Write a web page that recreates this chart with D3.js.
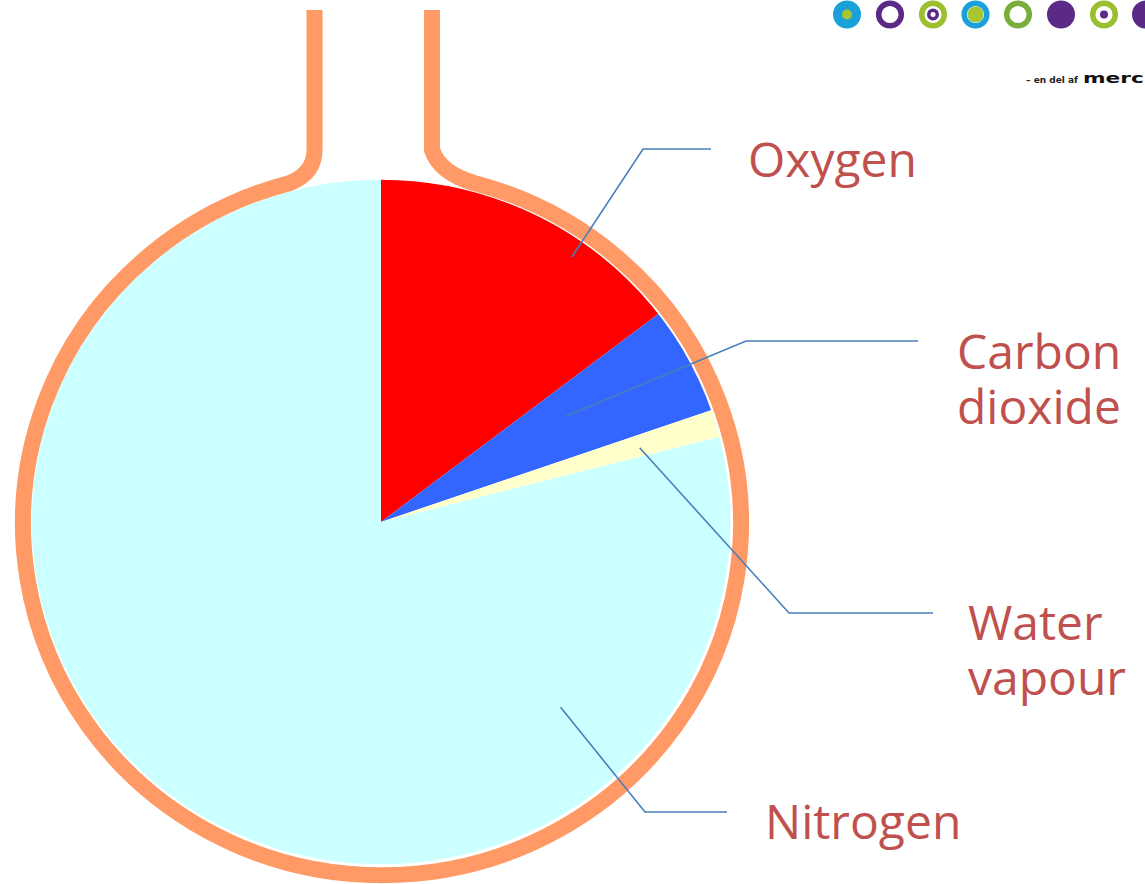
<!DOCTYPE html>
<html>
<head>
<meta charset="utf-8">
<script src="https://cdn.jsdelivr.net/npm/d3@7"></script>
<style>
  html, body { margin: 0; padding: 0; background: #fff; }
  svg { display: block; }
</style>
</head>
<body>
<div id="chart"></div>
<script>
// Data
const gases = ["Oxygen", "Carbon dioxide", "Water vapour", "Nitrogen"];
const shares = [14.6, 5.1, 1.3, 79.0];
const sliceColors = ["#ff0000", "#3366ff", "#ffffcc", "#ccffff"];

// Label layout (leader start is a fraction within the slice + radius fraction)
const labelLines = [["Oxygen"], ["Carbon", "dioxide"], ["Water", "vapour"], ["Nitrogen"]];
const leaderAt = [0.67, 0.39, 0.59, 0.214];
const leaderRadius = [0.945, 0.61, 0.77, 0.745];
const elbows = [[643, 149], [746, 341], [789, 613], [645, 812]];
const leaderEnds = [711, 918, 933, 727];
const textPos = [[748, 177], [957, 369], [968, 640], [765, 839]];

const WIDTH = 1145;
const HEIGHT = 884;
const CX = 381, CY = 522, RX = 350, RY = 343;
const LINE_GAP = 55;

const svg = d3.select("#chart")
  .append("svg")
  .attr("width", WIDTH)
  .attr("height", HEIGHT);

// Pie (slightly squashed circle)
const pie = d3.pie().value(d => d.value).sort(null);
const arcs = pie(gases.map((g, i) => ({ name: g, value: shares[i] })));

const arc = d3.arc().innerRadius(0).outerRadius(RX);

const pieG = svg.append("g")
  .attr("transform", "translate(" + CX + "," + CY + ") scale(1," + RY / RX + ")");

pieG.selectAll("path")
  .data(arcs)
  .enter()
  .append("path")
  .attr("d", arc)
  .attr("fill", (d, i) => sliceColors[i]);

// white rim along the pie edge
pieG.append("circle")
  .attr("r", RX)
  .attr("fill", "none")
  .attr("stroke", "#fff")
  .attr("stroke-width", 1.5);

// Flask outline round the pie
const flask = d3.path();
flask.moveTo(314.5, 10);
flask.lineTo(314.5, 150);
flask.quadraticCurveTo(314.5, 173, 290, 183);
svg.append("path")
  .attr("d", flask.toString() +
    " A 359 352 0 1 0 474 183" +
    " Q 440 173 432 150 L 432 10")
  .attr("fill", "none")
  .attr("stroke", "#ff9966")
  .attr("stroke-width", 16);

// Leader lines
const leaderStart = (d, i) => {
  const a = d.startAngle + leaderAt[i] * (d.endAngle - d.startAngle);
  const r = leaderRadius[i] * RX;
  return [CX + r * Math.sin(a), CY - r * Math.cos(a) * RY / RX];
};

svg.append("g")
  .selectAll("polyline")
  .data(arcs)
  .enter()
  .append("polyline")
  .attr("points", (d, i) => {
    const s = leaderStart(d, i);
    return [s, elbows[i], [leaderEnds[i], elbows[i][1]]].map(p => p.join(",")).join(" ");
  })
  .attr("fill", "none")
  .attr("stroke", "#4a7ebb")
  .attr("stroke-width", 1.6);

// Labels, one text per line
const labels = svg.append("g")
  .attr("font-family", "'Open Sans', 'Noto Sans', sans-serif")
  .attr("font-size", "48px")
  .attr("fill", "#c0504d");

labelLines.forEach((lines, i) => {
  lines.forEach((line, j) => {
    labels.append("text")
      .attr("x", textPos[i][0])
      .attr("y", textPos[i][1] + j * LINE_GAP)
      .text(line);
  });
});

// Logo, top right
const logoX = [847, 890, 933, 975.5, 1018, 1061, 1104, 1146];
const logoStyle = [
  { fill: "#1ba1d9", ring: null, dot: "#a7c62f", dotR: 5 },
  { fill: "#fff", ring: "#5b2a86", dot: null },
  { fill: "#fff", ring: "#9bbf2f", dot: "#5b2a86", dotR: 6, dotHole: 2.5 },
  { fill: "#fff", ring: "#1ba1d9", dot: "#a7c62f", dotR: 8 },
  { fill: "#fff", ring: "#7aae3a", dot: null },
  { fill: "#5b2a86", ring: null, dot: null },
  { fill: "#fff", ring: "#9bbf2f", dot: "#5b2a86", dotR: 4 },
  { fill: "#5b2a86", ring: null, dot: null }
];
const logo = svg.append("g");
logoStyle.forEach((s, i) => {
  const g = logo.append("g").attr("transform", "translate(" + logoX[i] + ",14.5)");
  g.append("circle")
    .attr("r", s.ring ? 11.3 : 14)
    .attr("fill", s.fill)
    .attr("stroke", s.ring || "none")
    .attr("stroke-width", s.ring ? 5.5 : 0);
  if (s.dot) {
    g.append("circle").attr("r", s.dotR).attr("fill", s.dot);
    if (s.dotHole) g.append("circle").attr("r", s.dotHole).attr("fill", "#fff");
  }
});
logo.append("text")
  .attr("x", 1026)
  .attr("y", 83)
  .attr("font-family", "'DejaVu Sans', sans-serif")
  .attr("font-weight", "bold")
  .attr("font-size", "9px")
  .attr("fill", "#222")
  .text("– en del af");
logo.append("text")
  .attr("transform", "translate(1083,83) scale(1.55,1)")
  .attr("font-family", "'DejaVu Sans', sans-serif")
  .attr("font-weight", "bold")
  .attr("font-size", "14px")
  .attr("fill", "#111")
  .text("merc");
</script>
</body>
</html>
